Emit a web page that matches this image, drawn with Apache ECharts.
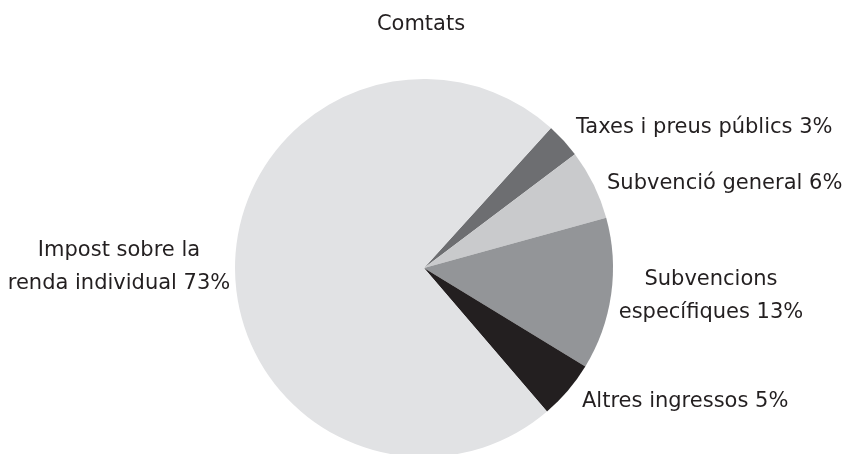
<!DOCTYPE html>
<html>
<head>
<meta charset="utf-8">
<script src="https://cdn.jsdelivr.net/npm/echarts@6/dist/echarts.min.js"></script>
<style>
  html, body { margin: 0; padding: 0; background: #ffffff; }
  #chart { width: 842px; height: 454px; }
</style>
</head>
<body>
<div id="chart"></div>
<script>
// Revenue sources of the counties, in percent
const categories = [
  'Taxes i preus públics',
  'Subvenció general',
  'Subvencions\nespecífiques',
  'Altres ingressos',
  'Impost sobre la\nrenda individual'
];
const shares = [3, 6, 13, 5, 73];
const sliceColors = ['#6d6e71', '#c9cacc', '#939598', '#231f20', '#e1e2e4'];
const chartTitle = 'Comtats';

// Where each slice caption sits: anchor point and alignment
const labelSpots = [
  { x: 576, y: 128, align: 'left' },
  { x: 607, y: 184, align: 'left' },
  { x: 711, y: 296, align: 'center' },
  { x: 582, y: 402, align: 'left' },
  { x: 119, y: 267, align: 'center' }
];

const chart = echarts.init(document.getElementById('chart'), null, { renderer: 'canvas' });

chart.setOption({
  animation: false,
  backgroundColor: '#ffffff',
  title: {
    text: chartTitle,
    left: 'center',
    top: 9,
    textStyle: {
      fontFamily: 'DejaVu Sans',
      fontSize: 21,
      fontWeight: 'normal',
      color: '#231f20'
    }
  },
  series: [{
    type: 'pie',
    center: [424, 268],
    radius: 189,
    startAngle: 47.8,
    clockwise: true,
    silent: true,
    avoidLabelOverlap: false,
    itemStyle: { borderWidth: 0 },
    labelLine: { show: false },
    label: {
      show: true,
      position: 'outside',
      alignTo: 'none',
      overflow: 'none',
      formatter: '{b} {c}%',
      fontFamily: 'DejaVu Sans',
      fontSize: 21,
      lineHeight: 33,
      color: '#231f20'
    },
    labelLayout: function (params) {
      const spot = labelSpots[params.dataIndex];
      return {
        x: spot.x,
        y: spot.y,
        align: spot.align,
        verticalAlign: 'middle',
        hideOverlap: false,
        moveOverlap: null
      };
    },
    data: categories.map(function (name, i) {
      return {
        name: name,
        value: shares[i],
        itemStyle: { color: sliceColors[i] },
        label: { align: labelSpots[i].align, overflow: 'none', width: null }
      };
    })
  }]
});
</script>
</body>
</html>
